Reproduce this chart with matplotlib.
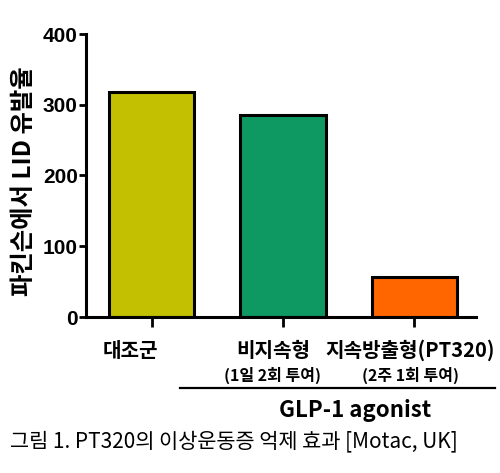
import matplotlib

matplotlib.use("Agg")
import matplotlib.pyplot as plt
from matplotlib.lines import Line2D

KO = ["Noto Sans CJK KR", "DejaVu Sans"]

groups = ["대조군", "비지속형", "지속방출형(PT320)"]
doses = ["", "(1일 2회 투여)", "(2주 1회 투여)"]
lid_rate = [318, 285, 57]
colors = ["#C2C000", "#0E9963", "#FF6600"]
yticks = [0, 100, 200, 300, 400]

W, H = 500, 473

fig = plt.figure(figsize=(W / 100, H / 100), dpi=100)
ax = fig.add_axes([86 / W, 1 - 317 / H, (476 - 86) / W, (317 - 34) / H])

xs = list(range(len(groups)))
ax.bar(xs, lid_rate, width=0.65, color=colors, edgecolor="black", linewidth=2.2)
ax.set_xlim(-0.5, 2.47)
ax.set_ylim(0, 400)
ax.set_yticks(yticks)
ax.set_yticklabels([str(v) for v in yticks], fontsize=15, fontweight="bold",
                   family=["Liberation Sans", "DejaVu Sans"])
ax.set_xticks(xs)
ax.set_xticklabels([])
ax.tick_params(axis="y", length=5, width=2, pad=1)
ax.tick_params(axis="x", length=7, width=2)
ax.spines[["top", "right"]].set_visible(False)
ax.spines[["left", "bottom"]].set_linewidth(2.2)

fig.text(24 / W, 1 - 181 / H, "파킨슨에서 LID 유발율", rotation=90, ha="center",
         va="center", fontsize=17.5, fontweight="bold", family=KO)

# category labels sit a bit off their ticks in the original
label_x = [130, 273, 410]
for x, g, d in zip(label_x, groups, doses):
    fig.text(x / W, 1 - 350 / H, g, ha="center", va="center", fontsize=14.5,
             fontweight="bold", family=KO)
    if d:
        fig.text(x / W, 1 - 375 / H, d, ha="center", va="center", fontsize=11.5,
                 fontweight="bold", family=KO)

fig.add_artist(Line2D([180 / W, 495 / W], [1 - 388 / H] * 2, color="black",
                      linewidth=1.6, transform=fig.transFigure))
fig.text(355 / W, 1 - 410 / H, "GLP-1 agonist", ha="center", va="center",
         fontsize=16, fontweight="bold", family=KO)
fig.text(10 / W, 1 - 441 / H, "그림 1. PT320의 이상운동증 억제 효과 [Motac, UK]",
         ha="left", va="center", fontsize=15, family=KO)

fig.savefig("out.png", dpi=100)
